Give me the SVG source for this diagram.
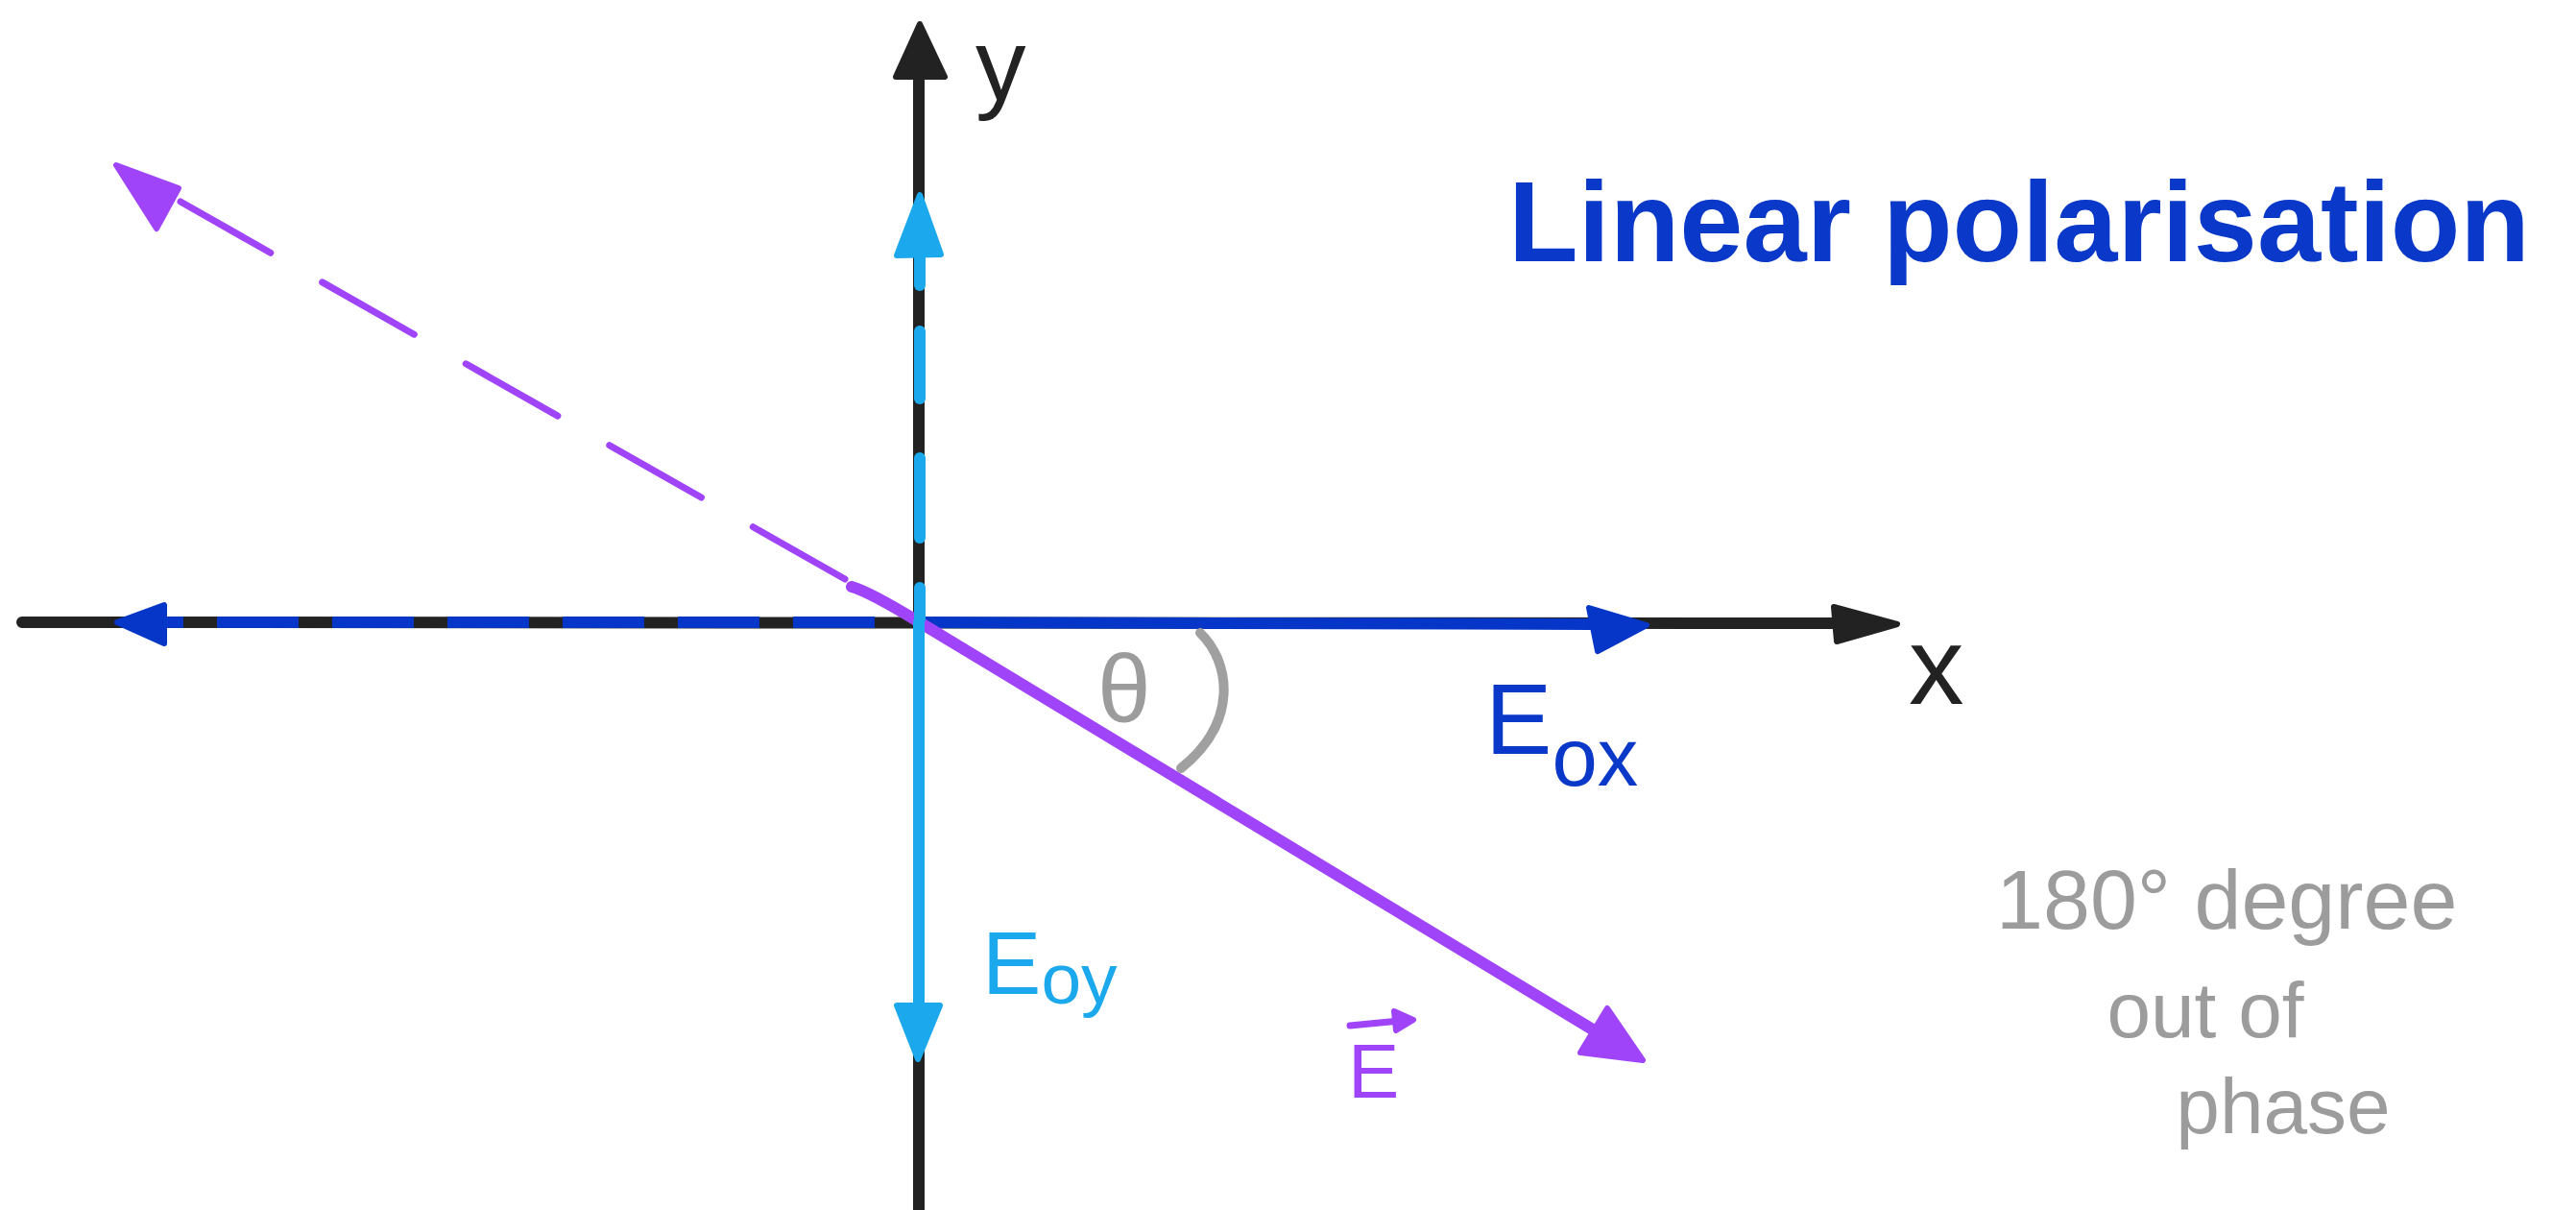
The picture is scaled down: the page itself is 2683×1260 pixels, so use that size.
<svg xmlns="http://www.w3.org/2000/svg" width="2683" height="1260" viewBox="0 0 2683 1260">
<style>
text{font-family:"Liberation Sans",Arial,sans-serif}
.ax{stroke:#222;stroke-width:12;stroke-linecap:round;fill:none}
.axh{fill:#222;stroke:#222;stroke-width:6;stroke-linejoin:round}
.bl{stroke:#0636c8;stroke-width:12;fill:none}
.blh{fill:#0636c8;stroke:#0636c8;stroke-width:6;stroke-linejoin:round}
.cy{stroke:#1ba8ec;stroke-width:12;stroke-linecap:round;fill:none}
.cyh{fill:#1ba8ec;stroke:#1ba8ec;stroke-width:6;stroke-linejoin:round}
.pu{stroke:#a044fa;stroke-width:12;stroke-linecap:round;fill:none}
.pud{stroke:#a044fa;stroke-width:7;stroke-linecap:round;fill:none;stroke-dasharray:110 62}
.puh{fill:#a044fa;stroke:#a044fa;stroke-width:6;stroke-linejoin:round}
.gr{stroke:#a0a0a0;stroke-width:10;stroke-linecap:round;fill:none}
.lblue{fill:#0a38c8}
.lcyan{fill:#1ba8ec}
.lpur{fill:#a044fa}
.lgray{fill:#9c9c9c}
.lblack{fill:#222}
</style>
<rect width="2683" height="1260" fill="#fff"/>

<g id="axis-x">
  <line class="ax" x1="23" y1="648" x2="1915" y2="649"/>
  <polygon class="axh" points="1910,632 1976,650 1913,668"/>
  <text class="lblack" x="1988" y="733" font-size="115">x</text>
</g>
<g id="axis-y">
  <line class="ax" x1="957" y1="1265" x2="957" y2="78"/>
  <polygon class="axh" points="933,80 958,25 984,80"/>
  <text class="lblack" x="1016" y="104" font-size="105">y</text>
</g>

<g id="connectors">
  <!-- Eox (blue) -->
  <line class="bl" x1="956" y1="648" x2="1660" y2="650"/>
  <polygon class="blh" points="1655,633 1715,651 1664,678"/>
  <line class="bl" x1="911" y1="648" x2="172" y2="648" stroke-dasharray="85 35"/>
  <polygon class="blh" points="122,648 171,630 171,670"/>
  <!-- E vector (purple) -->
  <path class="pu" d="M887,611 Q905,616 956,647 L1662,1074"/>
  <polygon class="puh" points="1674,1050 1711,1104 1646,1096"/>
  <path class="pud" d="M880,603 L188,210"/>
  <polygon class="puh" points="121,172 186,196 163,238"/>
  <!-- Eoy (cyan) -->
  <line class="cy" x1="957" y1="648" x2="957" y2="1052"/>
  <polygon class="cyh" points="934,1047 979,1047 956,1103"/>
  <line class="cy" x1="958" y1="645" x2="958" y2="612"/>
  <line class="cy" x1="958" y1="560" x2="958" y2="477"/>
  <line class="cy" x1="958" y1="415" x2="958" y2="345"/>
  <line class="cy" x1="958" y1="297" x2="958" y2="262"/>
  <polygon class="cyh" points="934,266 958,203 980,265"/>
  <!-- theta arc -->
  <path class="gr" d="M1250,659 C1282,690 1290,752 1230,800"/>
</g>

<g id="label-title">
  <text class="lblue" x="1571" y="272" font-size="119" font-weight="bold" textLength="1064" lengthAdjust="spacingAndGlyphs">Linear polarisation</text>
</g>
<g id="label-theta">
  <text class="lgray" x="1143" y="752" font-size="100">θ</text>
</g>
<g id="label-eox">
  <text class="lblue" x="1547" y="785" font-size="104">E<tspan font-size="85" dy="33">ox</tspan></text>
</g>
<g id="label-eoy">
  <text class="lcyan" x="1023" y="1035" font-size="92">E<tspan font-size="75" dy="10">oy</tspan></text>
</g>
<g id="label-evec">
  <text class="lpur" x="1404" y="1143" font-size="80">E</text>
  <path d="M1406,1068 L1458,1063" stroke="#a044fa" stroke-width="7" stroke-linecap="round" fill="none"/>
  <polygon class="puh" points="1452,1053 1472,1062 1454,1073"/>
</g>
<g id="label-phase">
  <text class="lgray" x="2079" y="967" font-size="88">180° degree</text>
  <text class="lgray" x="2297" y="1080" font-size="82" text-anchor="middle">out of</text>
  <text class="lgray" x="2378" y="1180" font-size="82" text-anchor="middle">phase</text>
</g>
</svg>
